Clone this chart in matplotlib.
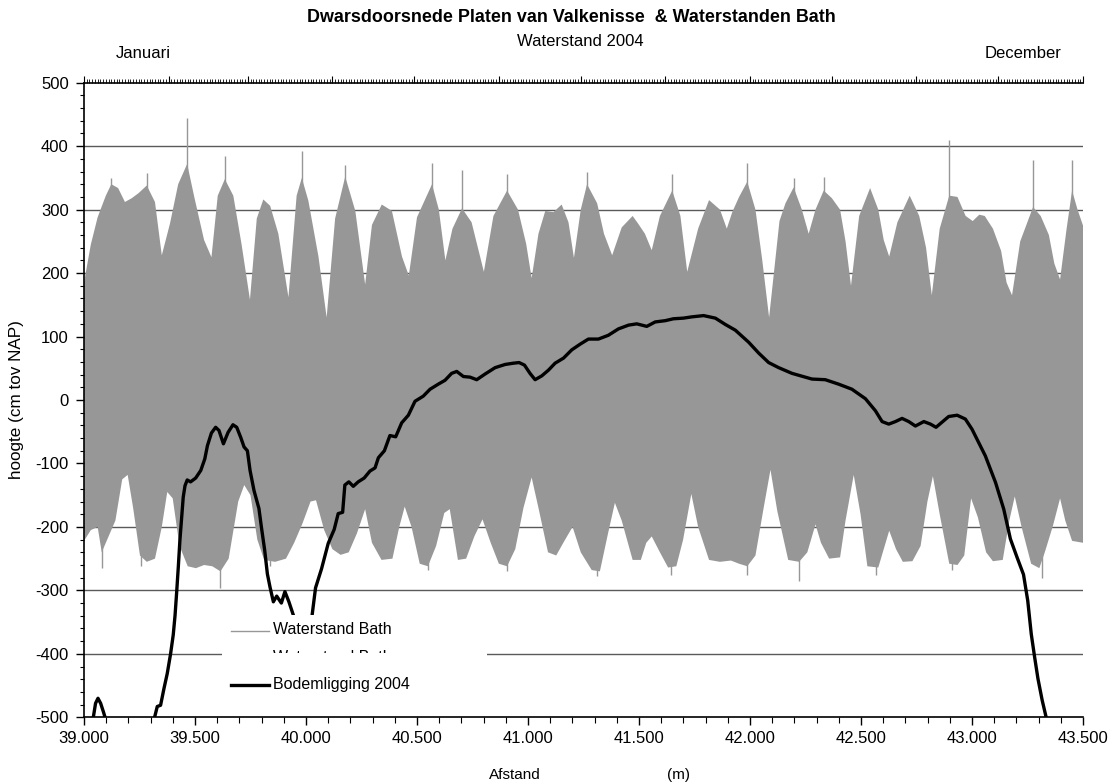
import matplotlib
matplotlib.use("Agg")
import matplotlib.pyplot as plt
import numpy as np
from matplotlib.ticker import MultipleLocator, FixedLocator, FuncFormatter, NullFormatter
from matplotlib.patches import Rectangle
from matplotlib.lines import Line2D

plt.rcParams['font.family'] = ['Liberation Sans', 'DejaVu Sans']
plt.rcParams['axes.unicode_minus'] = False

# bodemligging 2004: afstand (m) en hoogte (cm tov NAP)
bodem_afstand = [39000, 39030, 39042, 39052, 39063, 39075, 39088, 39099, 39130, 39200,
                 39280, 39318, 39330, 39345, 39360, 39375, 39390, 39402, 39410, 39417,
                 39425, 39432, 39440, 39447, 39455, 39465, 39480, 39503, 39526, 39544,
                 39556, 39574, 39593, 39608, 39628, 39649, 39671, 39688, 39706, 39721,
                 39736, 39748, 39766, 39788, 39799, 39814, 39826, 39838, 39853, 39868,
                 39889, 39905, 39923, 39943, 39970, 40000, 40015, 40025, 40043, 40070,
                 40100, 40127, 40145, 40165, 40175, 40193, 40213, 40235, 40262, 40288,
                 40311, 40326, 40353, 40378, 40404, 40431, 40461, 40491, 40528, 40559,
                 40596, 40626, 40656, 40679, 40709, 40739, 40769, 40807, 40852, 40897,
                 40934, 40960, 40984, 41009, 41032, 41062, 41092, 41122, 41160, 41197,
                 41235, 41272, 41317, 41362, 41407, 41453, 41490, 41535, 41573, 41618,
                 41655, 41700, 41738, 41791, 41844, 41889, 41934, 41994, 42039, 42084,
                 42129, 42189, 42279, 42339, 42399, 42459, 42520, 42565, 42595, 42625,
                 42655, 42685, 42715, 42745, 42783, 42813, 42838, 42865, 42895, 42933,
                 42970, 43000, 43030, 43060, 43106, 43143, 43173, 43203, 43232, 43251,
                 43267, 43282, 43297, 43316, 43334, 43380]
bodem_hoogte = [-560, -520, -500, -478, -470, -478, -492, -505, -545, -560,
                -545, -500, -483, -481, -455, -431, -400, -370, -340, -305,
                -262, -221, -185, -153, -135, -126, -129, -123, -111, -93,
                -72, -52, -43, -48, -69, -51, -39, -43, -59, -74,
                -80, -111, -143, -171, -200, -237, -274, -295, -318, -309,
                -320, -302, -318, -339, -375, -385, -370, -346, -296, -266,
                -226, -204, -179, -177, -134, -129, -136, -129, -123, -112,
                -107, -91, -80, -56, -58, -36, -24, -2, 6, 17,
                25, 31, 42, 45, 37, 36, 32, 41, 51, 56,
                58, 59, 55, 42, 32, 38, 47, 58, 66, 79,
                88, 96, 96, 102, 112, 118, 120, 116, 123, 125,
                128, 129, 131, 133, 129, 119, 110, 91, 74, 59,
                51, 42, 33, 32, 25, 17, 2, -17, -34, -38,
                -34, -29, -34, -41, -34, -38, -43, -35, -26, -24,
                -30, -46, -67, -88, -130, -172, -219, -248, -275, -316,
                -369, -405, -439, -473, -500, -560]

# waterstand Bath 2004: omhullende hoogwater (dag van het jaar, cm tov NAP)
hw_dag = [0, 2.5, 5, 8, 10, 12.5, 15, 17.5, 20, 23, 26, 28.5, 31.5, 34.5, 37.8, 40.5,
          44, 46.7, 49, 51.6, 54.7, 57.7, 60.8, 63.3, 65.7, 68.2, 71.2, 74.9, 77.9, 79.8,
          82.2, 85.9, 88.9, 92, 95.7, 99.4, 103, 105.5, 109.1, 112.8, 116.5, 119, 122,
          127.5, 130, 132.4, 135, 138.5, 142, 146.5, 150, 155, 159, 162, 164, 166.5, 169,
          172, 175, 177.5, 179.5, 182, 184.3, 188, 190.5, 193.5, 197, 201, 203, 205.5,
          208, 211, 215.5, 218.5, 221, 225, 229, 233, 235.5, 237.5, 240, 243, 246, 248.5,
          251, 254.8, 257, 260, 263, 265.5, 268, 271, 274, 277, 279, 281, 284, 288, 291,
          293, 295, 298, 302.5, 306, 308.5, 310.6, 313.5, 317, 320, 323, 325.6, 328, 330,
          333, 336, 338, 340, 343, 347.7, 350.5, 353.5, 355.5, 357.6, 360, 362, 364, 366]
hw = [185, 245, 288, 322, 340, 334, 312, 318, 326, 338, 312, 228, 278, 340, 372, 318,
      252, 225, 322, 348, 322, 246, 158, 286, 316, 306, 262, 162, 322, 350,
      314, 226, 130, 286, 352, 298, 182, 276, 308, 298, 226, 196, 288,
      340, 300, 220, 270, 302, 280, 202, 290, 330, 300, 246, 192, 262, 298,
      296, 308, 280, 224, 300, 340, 310, 262, 228, 272, 290, 278, 262,
      236, 290, 330, 290, 202, 270, 315, 300, 270, 296, 320, 344, 300, 220,
      130, 282, 310, 335, 300, 262, 300, 330, 318, 300, 250, 180, 290, 334, 300,
      252, 226, 280, 322, 290, 240, 165, 270, 322, 320, 290, 282, 292, 290,
      270, 235, 185, 165, 250, 304, 290, 260, 215, 190, 270, 330, 300, 275]

# omhullende laagwater
lw_dag = [0, 2.5, 5, 6.5, 9, 11.5, 14, 16, 18, 20.5, 23, 26, 28.5, 30.5, 32.5, 35, 38,
          41, 44, 47, 50, 53, 56.5, 58.7, 61, 63.5, 66, 70, 74, 77, 80, 83, 85, 88, 91,
          94, 97, 100, 103, 105.5, 109, 113, 115.5, 117.5, 120, 123, 126, 129, 132, 134,
          137, 140, 143, 146, 149, 152, 155, 158, 161, 164, 166.5, 170, 173, 176, 179,
          182, 186, 189, 192, 194.5, 197, 201, 204, 206, 208, 211, 214, 217, 219.5,
          222.5, 225, 229, 233, 237, 240, 243, 246, 249, 251.5, 254, 258, 262, 265, 268,
          270, 273, 277, 279, 282, 284.5, 287, 291, 293, 295, 297.5, 300, 303.5, 306.5,
          309, 311, 313.5, 317, 320, 322.5, 325, 327.5, 330.5, 333, 336.6, 339, 341,
          343.5, 347, 350, 352, 355, 357.6, 359.5, 362, 366]
lw = [-222, -205, -200, -240, -215, -190, -125, -118, -170, -245, -255, -250, -200,
      -145, -155, -230, -262, -265, -260, -262, -270, -250, -160, -134, -150, -220,
      -252, -255, -250, -225, -195, -160, -158, -205, -235, -244, -240, -210, -172,
      -225, -252, -250, -200, -168, -200, -258, -262, -230, -178, -172, -252, -250,
      -215, -188, -225, -258, -262, -235, -170, -122, -170, -240, -245, -222, -200,
      -240, -268, -270, -210, -162, -190, -252, -252, -225, -215, -240, -264, -262,
      -220, -148, -200, -252, -255, -253, -258, -262, -245, -170, -110, -175, -252,
      -255, -240, -196, -225, -250, -248, -190, -118, -180, -262, -264, -235, -206,
      -235, -255, -254, -230, -160, -120, -180, -258, -260, -245, -155, -185, -240,
      -254, -252, -190, -152, -200, -258, -265, -240, -198, -155, -190, -222, -225]

# losse uitschieters boven en onder
piek_dag = [10, 23, 37.8, 51.6, 79.8, 95.7, 127.5, 138.5, 155, 184.3, 215.5, 243, 260,
            271, 317, 347.7, 362]
piek = [350, 358, 444, 385, 393, 371, 374, 362, 356, 360, 356, 373, 350, 351, 409, 378, 378]
dal_dag = [6.5, 21, 50, 68, 126, 155, 188, 215, 243, 262, 290, 318, 351]
dal = [-264, -262, -296, -262, -268, -270, -277, -275, -275, -285, -275, -268, -280]

maand_start = [0, 31, 60, 91, 121, 152, 182, 213, 244, 274, 305, 335, 366]

grijs = '#979797'
W, H = 1112, 782


def fx(x):
    return x / W


def fy(y):
    return 1 - y / H


fig = plt.figure(figsize=(W / 100, H / 100), dpi=100)
ax_t = fig.add_axes([fx(84), fy(717.3), (1083 - 84) / W, (717.3 - 82.7) / H])
ax_d = ax_t.twiny()

# tijd-as (waterstanden)
ax_t.set_xlim(0, 366)
ax_t.set_ylim(-500, 500)
for v in range(-400, 401, 100):
    ax_t.axhline(v, color='#5a5a5a', lw=1.0, zorder=0.5)
ax_t.fill(np.r_[hw_dag, lw_dag[::-1]], np.r_[hw, lw[::-1]], color=grijs, lw=0, zorder=1)
ax_t.vlines(piek_dag, 0, piek, color=grijs, lw=1.0, zorder=1)
ax_t.vlines(dal_dag, dal, 0, color=grijs, lw=1.0, zorder=1)

ax_t.xaxis.set_ticks_position('top')
ax_t.xaxis.set_major_locator(FixedLocator(maand_start))
ax_t.xaxis.set_minor_locator(MultipleLocator(1))
ax_t.xaxis.set_major_formatter(NullFormatter())
ax_t.tick_params(axis='x', which='major', direction='out', length=5, width=0.8, color='black')
ax_t.tick_params(axis='x', which='minor', direction='out', length=3, width=0.6, color='black')

ax_t.yaxis.set_major_locator(MultipleLocator(100))
ax_t.yaxis.set_minor_locator(MultipleLocator(20))
ax_t.tick_params(axis='y', which='major', direction='out', length=6, width=1, labelsize=12, pad=5)
ax_t.tick_params(axis='y', which='minor', direction='out', length=3, width=0.8)
ax_t.set_ylabel('hoogte (cm tov NAP)', fontsize=12.3, labelpad=8)

for s in ['right', 'bottom']:
    ax_t.spines[s].set_visible(False)
ax_t.spines['top'].set_linewidth(1.2)
ax_t.spines['left'].set_linewidth(1.2)

# afstand-as (bodemligging)
ax_d.set_xlim(39000, 43500)
ax_d.set_ylim(-500, 500)
ax_d.plot(bodem_afstand, bodem_hoogte, color='black', lw=2.4, zorder=3)
ax_d.xaxis.set_ticks_position('bottom')
ax_d.xaxis.set_label_position('bottom')
ax_d.xaxis.set_major_locator(MultipleLocator(500))
ax_d.xaxis.set_minor_locator(MultipleLocator(100))
ax_d.xaxis.set_major_formatter(FuncFormatter(lambda v, p: f"{int(round(v)):,}".replace(",", ".")))
ax_d.tick_params(axis='x', which='major', direction='out', length=6, width=1, labelsize=12, pad=4)
ax_d.tick_params(axis='x', which='minor', direction='out', length=4, width=0.8)
for s in ['right', 'top', 'left']:
    ax_d.spines[s].set_visible(False)
ax_d.spines['bottom'].set_linewidth(1.2)

# teksten
fig.text(fx(571), fy(18), 'Dwarsdoorsnede Platen van Valkenisse  & Waterstanden Bath',
         ha='center', va='center', fontsize=12.9, fontweight='bold')
fig.text(fx(580), fy(42), 'Waterstand 2004', ha='center', va='center', fontsize=12)
fig.text(fx(143), fy(53), 'Januari', ha='center', va='center', fontsize=12)
fig.text(fx(1023), fy(53), 'December', ha='center', va='center', fontsize=12)
fig.text(fx(515), fy(775), 'Afstand', ha='center', va='center', fontsize=11)
fig.text(fx(678), fy(775), '(m)', ha='center', va='center', fontsize=11)

# legenda
fig.add_artist(Rectangle((fx(222), fy(700)), (487 - 222) / W, (700 - 615) / H,
                         transform=fig.transFigure, facecolor='white', edgecolor='none', zorder=5))
fig.add_artist(Line2D([fx(231), fx(269)], [fy(630.5), fy(630.5)], color=grijs, lw=1.0,
                      transform=fig.transFigure, zorder=6))
fig.text(fx(273), fy(629.5), 'Waterstand Bath', ha='left', va='center', fontsize=11.5, zorder=6)
fig.text(fx(273), fy(657.5), 'Waterstand Bath', ha='left', va='center', fontsize=11.5, zorder=6)
fig.add_artist(Rectangle((fx(222), fy(679)), (487 - 222) / W, (679 - 653) / H,
                         transform=fig.transFigure, facecolor='white', edgecolor='none', zorder=7))
fig.add_artist(Line2D([fx(231), fx(269)], [fy(685), fy(685)], color='black', lw=2.4,
                      transform=fig.transFigure, zorder=8))
fig.text(fx(273), fy(684), 'Bodemligging 2004', ha='left', va='center', fontsize=11.5, zorder=8)

fig.savefig('out.png', dpi=100)
